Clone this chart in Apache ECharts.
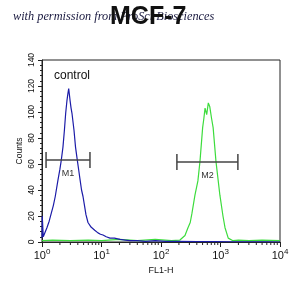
<!DOCTYPE html>
<html><head><meta charset="utf-8">
<script src="https://cdn.jsdelivr.net/npm/echarts@6/dist/echarts.min.js"></script>
<style>html,body{margin:0;padding:0;background:#fff}#c{width:305px;height:296px}</style>
</head><body><div id="c"></div>
<script>
// FL1-H values (linear units, plotted on log axis) and counts
const controlX = [1.00,1.01,1.03,1.05,1.08,1.21,1.32,1.43,1.55,1.67,1.86,2.00,2.11,2.25,2.38,2.50,2.63,2.72,2.81,2.96,3.08,3.19,3.45,3.66,3.92,4.15,4.36,4.62,4.89,5.22,5.48,5.93,6.30,6.67,7.20,7.69,8.20,8.73,9.60,10.6,12.0,13.9,16.5,20.5,25.0,30.1,40,55,80,120,200,400,800,1500,3000,6000,10000];
const controlY = [3,20,19,4,5,11,16,22,28,35,48,56,63,73,86,99,109,114,118,109,103,99,86,73,63,55,48,40,35,27,21,15,14,11.5,10,9,8,7,6,5.4,4,3,3,2,1.5,1,1,0.5,1,0.5,0.5,0.3,0.3,0.2,0.2,0.1,0];
const sampleX = [1.0,1.5,3,6,10,20,40,80,150,208,253,284,310,331,372,417,452,501,525,550,586,624,661,708,752,839,977,1100,1191,1349,1622,2000,3000,5000,10000];
const sampleY = [1,1.5,1,1.5,1,2,1,2,1,1.5,5,11,15,22,36,47,62,88,95,103,98,107,104,95,88,62,36,20,11,3,1,1.5,1,1.5,1];
const yTicks = [0,20,40,60,80,100,120,140];
const xMinor = [2,3,4,5,6,7,8,9,20,30,40,50,60,70,80,90,200,300,400,500,600,700,800,900,2000,3000,4000,5000,6000,7000,8000,9000];
// gates: [start, end, level, label]
const gates = [[1.17, 6.4, 63, 'M1'], [185, 1960, 61.5, 'M2']];

const FONT = 'Liberation Sans, Arial, sans-serif';
const chart = echarts.init(document.getElementById('c'));
const zip = (a,b)=>a.map((v,i)=>[v,b[i]]);
chart.setOption({
  animation:false,
  backgroundColor:'#fff',
  title:[
    {text:'with permission from ProSci Biosciences', left:8, top:6,
     textStyle:{fontFamily:'Liberation Serif, serif', fontStyle:'italic', fontWeight:'normal', fontSize:12.3, color:'#1a1a40'}},
    {text:'MCF-7', left:105, top:0,
     textStyle:{fontFamily:FONT, fontWeight:'bold', fontSize:25, color:'#111'}}
  ],
  grid:{left:42, right:25, top:60, bottom:54, show:true, borderColor:'#222', borderWidth:1},
  xAxis:{type:'log', logBase:10, min:1, max:10000,
    name:'FL1-H', nameLocation:'middle', nameGap:17,
    nameTextStyle:{fontFamily:FONT, fontSize:9, color:'#111'},
    axisLine:{lineStyle:{color:'#222'}},
    axisTick:{show:true, length:5, lineStyle:{color:'#222'}},
    splitLine:{show:false},
    axisLabel:{margin:6, color:'#111', fontFamily:FONT,
      formatter:v=>{const e=Math.round(Math.log10(v)); return '{b|10}{s|'+e+'}';},
      rich:{b:{fontSize:11, fontFamily:FONT, color:'#111'}, s:{fontSize:8, fontFamily:FONT, color:'#111', padding:[0,0,8,0]}}}
  },
  yAxis:{type:'value', min:0, max:140, interval:20,
    name:'Counts', nameLocation:'middle', nameGap:18, nameRotate:90, nameMoveOverlap:false,
    nameTextStyle:{fontFamily:FONT, fontSize:8.5, color:'#111'},
    axisLine:{show:true, lineStyle:{color:'#222'}},
    axisTick:{show:true, length:4, lineStyle:{color:'#222'}},
    minorTick:{show:true, splitNumber:5, length:2, lineStyle:{color:'#222'}},
    splitLine:{show:false},
    axisLabel:{rotate:90, margin:6, fontSize:8.5, fontFamily:FONT, color:'#111',
      formatter:v=>yTicks.includes(v)?String(v):''}
  },
  graphic:[{type:'text', left:54, top:70, style:{text:'control', fontFamily:FONT, fontSize:12, fill:'#111'}}],
  series:[
    {type:'line', data:zip(sampleX,sampleY), showSymbol:false, lineStyle:{color:'#3ddc3d', width:1.2}, z:3},
    {type:'line', data:zip(controlX,controlY), showSymbol:false, lineStyle:{color:'#1c1ca8', width:1.2}, z:4},
    {type:'custom', data:gates, clip:false, z:5,
      renderItem:(params, api)=>{
        const a=api.coord([api.value(0), api.value(2)]);
        const b=api.coord([api.value(1), api.value(2)]);
        const lab=gates[params.dataIndex][3];
        const st={stroke:'#444', lineWidth:1.5};
        return {type:'group', children:[
          {type:'line', shape:{x1:a[0],y1:a[1],x2:b[0],y2:b[1]}, style:st},
          {type:'line', shape:{x1:a[0],y1:a[1]-8,x2:a[0],y2:a[1]+8}, style:st},
          {type:'line', shape:{x1:b[0],y1:b[1]-8,x2:b[0],y2:b[1]+8}, style:st},
          {type:'text', x:(a[0]+b[0])/2, y:a[1]+13, style:{text:lab, fontFamily:FONT, fontSize:9, fill:'#333', align:'center', verticalAlign:'middle'}}
        ]};
      }},
    {type:'custom', data:xMinor.map(v=>[v]), clip:false, z:5,
      renderItem:(params, api)=>{
        const p=api.coord([api.value(0), 0]);
        return {type:'line', shape:{x1:p[0],y1:p[1],x2:p[0],y2:p[1]+3}, style:{stroke:'#222', lineWidth:1}};
      }}
  ]
});
</script></body></html>
